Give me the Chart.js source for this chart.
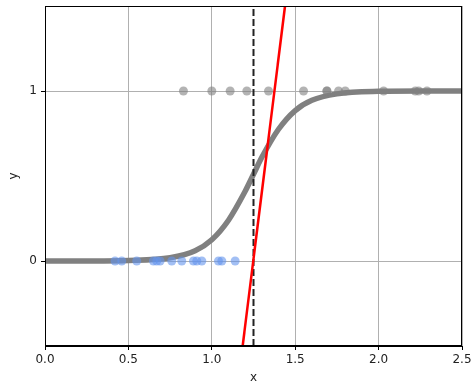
<!DOCTYPE html>
<html>
<head>
<meta charset="utf-8">
<script src="https://cdn.jsdelivr.net/npm/chart.js@4/dist/chart.umd.min.js"></script>
<style>
  html, body { margin: 0; padding: 0; background: #fff; }
  #wrap { width: 476px; height: 390px; }
</style>
</head>
<body>
<div id="wrap"><canvas id="c" width="476" height="390"></canvas></div>
<script>
// points
const class0X = [0.42, 0.46, 0.55, 0.65, 0.67, 0.69, 0.76, 0.82, 0.89, 0.91, 0.94, 1.04, 1.06, 1.14];
const class1X = [0.83, 1.00, 1.11, 1.21, 1.34, 1.55, 1.69, 1.69, 1.76, 1.80, 2.03, 2.22, 2.24, 2.29];

// fitted curve, sampled by eye
const curveX = [0, 0.25, 0.5, 0.75, 0.9, 1.0, 1.1, 1.2, 1.25, 1.3, 1.4, 1.5, 1.6, 1.75, 2.0, 2.25, 2.5];
const curveY = [0, 0.0003, 0.003, 0.019, 0.06, 0.125, 0.24, 0.41, 0.51, 0.61, 0.775, 0.885, 0.945, 0.983, 0.998, 1.0, 1.0];

// red line end points and the dashed boundary
const redX = [1.185, 1.439];
const redY = [-0.5, 1.5];
const boundaryX = 1.25;

// axes
const xTicks = [0, 0.5, 1.0, 1.5, 2.0, 2.5];
const yTicks = [0, 1];
const xRange = [0, 2.5];
const yRange = [-0.5, 1.5];

const toXY = (xs, ys) => xs.map((x, i) => ({ x: x, y: ys[i] }));

// frame on all four sides, like matplotlib spines
const frame = {
  id: "frame",
  afterDraw(chart) {
    const a = chart.chartArea, g = chart.ctx;
    g.save();
    g.strokeStyle = "#000";
    g.lineWidth = 1;
    g.strokeRect(a.left + 0.5, a.top + 0.5, a.right - a.left - 1, a.bottom - a.top - 1);
    g.restore();
  }
};

new Chart(document.getElementById("c"), {
  type: "scatter",
  data: {
    datasets: [
      {
        type: "line",
        data: toXY(redX, redY),
        borderColor: "#ff0000",
        borderWidth: 2.5,
        pointRadius: 0,
        order: 0
      },
      {
        type: "line",
        data: toXY([boundaryX, boundaryX], yRange),
        borderColor: "#222",
        borderWidth: 2,
        borderDash: [7, 3],
        pointRadius: 0,
        order: 1
      },
      {
        data: class0X.map(x => ({ x: x, y: 0 })),
        backgroundColor: "rgba(100,149,237,0.6)",
        borderWidth: 0,
        pointRadius: 4.5,
        order: 2
      },
      {
        data: class1X.map(x => ({ x: x, y: 1 })),
        backgroundColor: "rgba(128,128,128,0.6)",
        borderWidth: 0,
        pointRadius: 4.5,
        order: 3
      },
      {
        type: "line",
        data: toXY(curveX, curveY),
        borderColor: "#808080",
        borderWidth: 5.5,
        pointRadius: 0,
        cubicInterpolationMode: "monotone",
        order: 4
      }
    ]
  },
  options: {
    responsive: false,
    animation: false,
    layout: { padding: { top: 6, right: 14, left: 0, bottom: 0 } },
    plugins: { legend: { display: false }, tooltip: { enabled: false } },
    scales: {
      x: {
        type: "linear",
        min: xRange[0],
        max: xRange[1],
        afterBuildTicks: s => { s.ticks = xTicks.map(v => ({ value: v })); },
        afterFit: s => { s.height = 44; },
        ticks: {
          color: "#222",
          font: { family: "DejaVu Sans", size: 12 },
          padding: 3,
          callback: v => v.toFixed(1)
        },
        grid: { color: "#b0b0b0", lineWidth: 1, tickColor: "#000", tickLength: 4 },
        border: { color: "#000" },
        title: {
          display: true,
          text: "x",
          color: "#222",
          font: { family: "DejaVu Sans", size: 12 },
          padding: { top: 0, bottom: 5 }
        }
      },
      y: {
        type: "linear",
        min: yRange[0],
        max: yRange[1],
        afterBuildTicks: s => { s.ticks = yTicks.map(v => ({ value: v })); },
        afterFit: s => { s.width = 45; s.paddingTop = 0; s.paddingBottom = 0; },
        ticks: {
          color: "#222",
          font: { family: "DejaVu Sans", size: 12 },
          padding: 4
        },
        grid: { color: "#b0b0b0", lineWidth: 1, tickColor: "#000", tickLength: 4 },
        border: { color: "#000" },
        title: {
          display: true,
          text: "y",
          color: "#222",
          font: { family: "DejaVu Sans", size: 12 },
          padding: { top: 7, bottom: 0 }
        }
      }
    }
  },
  plugins: [frame]
});
</script>
</body>
</html>
